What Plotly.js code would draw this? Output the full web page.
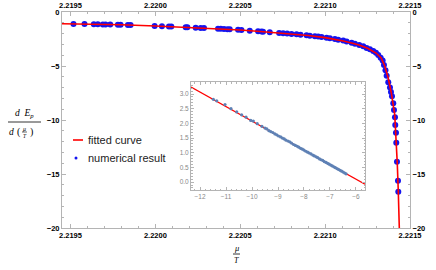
<!DOCTYPE html>
<html>
<head>
<meta charset="utf-8">
<script src="https://cdn.plot.ly/plotly-3.0.1.min.js"></script>
<style>html,body{margin:0;padding:0;background:#fff;}#chart{width:436px;height:270px;}</style>
</head>
<body>
<div id="chart"></div>
<script>
// ---- data ----
const numX = [2.2195177, 2.2195826, 2.2196375, 2.2196611, 2.2196906, 2.2197065, 2.2197342, 2.2197791, 2.2197950, 2.2198381,
  2.2198540, 2.2199956, 2.2200386, 2.2200799, 2.2200941, 2.2201785, 2.2201885, 2.2202375, 2.2202670, 2.2202864,
  2.2203690, 2.2203850, 2.2204044, 2.2204245, 2.2204381, 2.2204870, 2.2205071, 2.2205560, 2.2206050, 2.2206251,
  2.2206345, 2.2206740, 2.2207289, 2.2207525, 2.2207761, 2.2208021, 2.2208316, 2.2208552, 2.2208906, 2.2209100,
  2.2209395, 2.2209590, 2.2209791, 2.2210086, 2.2210280, 2.2210575, 2.2210770, 2.2211065, 2.2211265, 2.2211560,
  2.2211755, 2.2212009, 2.2212245, 2.2212445, 2.2212640, 2.2212835, 2.2212994, 2.2213130, 2.2213271, 2.2213389,
  2.2213466, 2.2213555, 2.2213625, 2.2213720, 2.2213820, 2.2213879, 2.2213938, 2.2214015, 2.2214056, 2.2214115,
  2.2214133, 2.2214174, 2.2214192, 2.2214233, 2.2214292, 2.2214310];
const numY = [-1.11, -1.12, -1.14, -1.14, -1.15, -1.15, -1.16, -1.18, -1.18, -1.20,
  -1.21, -1.30, -1.32, -1.34, -1.35, -1.42, -1.42, -1.46, -1.48, -1.49,
  -1.55, -1.56, -1.57, -1.59, -1.60, -1.65, -1.67, -1.73, -1.79, -1.80,
  -1.82, -1.87, -1.94, -1.97, -2.00, -2.03, -2.07, -2.10, -2.16, -2.19,
  -2.25, -2.28, -2.32, -2.38, -2.44, -2.50, -2.56, -2.65, -2.74, -2.84,
  -2.93, -3.06, -3.18, -3.33, -3.46, -3.61, -3.77, -3.98, -4.23, -4.50,
  -4.90, -5.40, -5.90, -6.50, -7.00, -7.40, -7.80, -8.45, -9.07, -9.75,
  -10.46, -11.18, -12.10, -13.86, -15.62, -16.64];

const fitX = [2.21945, 2.2196, 2.2198, 2.2200, 2.2202, 2.2204, 2.2205, 2.2206, 2.2207, 2.2208, 2.2209, 2.2210,
  2.22105, 2.2211, 2.22115, 2.2212, 2.22125, 2.2213, 2.22133, 2.22135, 2.22137, 2.22139, 2.22141,
  2.221418, 2.221425, 2.221431, 2.221437];
const fitY = [-1.09, -1.12, -1.18, -1.29, -1.43, -1.57, -1.66, -1.78, -1.90, -2.03, -2.17, -2.37,
  -2.50, -2.66, -2.84, -3.05, -3.36, -3.80, -4.25, -4.95, -6.0, -7.5, -9.5,
  -11.5, -14.0, -16.6, -20];

const insetX = [-11.49, -11.36, -11.04, -10.81, -10.59, -10.40, -10.23, -10.05, -9.95, -9.80,
  -9.62, -9.50, -9.43, -9.35, -9.28, -9.20, -9.12, -9.05, -8.98, -8.90,
  -8.83, -8.76, -8.70, -8.62, -8.55, -8.48, -8.40, -8.33, -8.26, -8.20,
  -8.13, -8.06, -8.00, -7.93, -7.86, -7.80, -7.73, -7.66, -7.60, -7.53,
  -7.47, -7.40, -7.34, -7.28, -7.22, -7.15, -7.09, -7.03, -6.97, -6.91,
  -6.85, -6.79, -6.73, -6.67, -6.61, -6.55, -6.49, -6.43, -6.38];
const insetY = [2.82, 2.77, 2.64, 2.50, 2.39, 2.29, 2.21, 2.10, 2.08, 1.99,
  1.90, 1.84, 1.81, 1.75, 1.72, 1.69, 1.64, 1.61, 1.57, 1.54,
  1.50, 1.47, 1.43, 1.40, 1.37, 1.33, 1.28, 1.25, 1.22, 1.19,
  1.15, 1.12, 1.09, 1.05, 1.02, 0.99, 0.96, 0.92, 0.89, 0.86,
  0.83, 0.79, 0.76, 0.74, 0.70, 0.67, 0.64, 0.61, 0.58, 0.55,
  0.52, 0.49, 0.46, 0.43, 0.40, 0.37, 0.34, 0.31, 0.28];
const insetFitX = [-12.35, -5.65];
const insetFitY = [3.24, -0.07];

const legendLabels = ["fitted curve", "numerical result"];

// ---- layout helpers (pixel -> paper) ----
const W = 436, H = 270, ML = 62, MR = 26, MT = 12, MB = 42;
const PW = W - ML - MR, PH = H - MT - MB;
const px = x => (x - ML) / PW;
const py = y => (H - MB - y) / PH;

const frame = '#b4b4b4';
const tickFont = {family: 'Liberation Sans, Arial, sans-serif', size: 7.5, color: '#000', weight: 'bold'};
const insetFont = {family: 'Liberation Sans, Arial, sans-serif', size: 6.5, color: '#888'};
const XR = [2.21945, 2.2215], YR = [-20, 0];

const mainX = {range: XR, tick0: 2.2195, dtick: 0.0005, tickformat: '.4f', ticks: 'inside', ticklen: 4,
  tickcolor: frame, tickwidth: 1, showline: true, linecolor: frame, linewidth: 1, showgrid: false, zeroline: false,
  tickfont: tickFont, minor: {dtick: 0.0001, ticks: 'inside', ticklen: 2, tickcolor: frame, showgrid: false}, fixedrange: true};
const mainY = {range: YR, tick0: 0, dtick: 5, ticks: 'inside', ticklen: 4, tickcolor: frame, tickwidth: 1,
  showline: true, linecolor: frame, linewidth: 1, showgrid: false, zeroline: false, tickfont: tickFont,
  minor: {dtick: 1, ticks: 'inside', ticklen: 2, tickcolor: frame, showgrid: false}, fixedrange: true};

const traces = [
  {x: numX, y: numY, type: 'scatter', mode: 'markers', xaxis: 'x', yaxis: 'y',
   marker: {color: '#1414f0', size: 6, line: {width: 0}}, showlegend: false, hoverinfo: 'skip'},
  {x: fitX, y: fitY, type: 'scatter', mode: 'lines', xaxis: 'x', yaxis: 'y',
   line: {color: '#ff0000', width: 1.6}, showlegend: false, hoverinfo: 'skip'},
  {x: [], y: [], type: 'scatter', mode: 'markers', xaxis: 'x2', yaxis: 'y2', showlegend: false, hoverinfo: 'skip'},
  {x: insetFitX, y: insetFitY, type: 'scatter', mode: 'lines', xaxis: 'x3', yaxis: 'y3',
   line: {color: '#ff0000', width: 1.3}, showlegend: false, hoverinfo: 'skip'},
  {x: insetX, y: insetY, type: 'scatter', mode: 'markers', xaxis: 'x3', yaxis: 'y3',
   marker: {color: '#5e81b5', size: 3.2, line: {width: 0}}, showlegend: false, hoverinfo: 'skip'}
];

const serif = 'Liberation Serif, Times New Roman, serif';
const ann = (x, y, text, size, extra) => Object.assign({xref: 'paper', yref: 'paper', x: px(x), y: py(y), text: text,
  showarrow: false, xanchor: 'center', yanchor: 'middle', font: {family: serif, size: size, color: '#000'}}, extra || {});

const annotations = [
  ann(24, 113, '<i>d</i>  <i>E</i><sub><i>p</i></sub>', 9.5),
  ann(11, 132, '<i>d</i>', 9.5),
  ann(18.5, 132, '(', 10),
  ann(24.5, 128.5, '<i>μ</i>', 6),
  ann(24.5, 136, '<i>T</i>', 5.5),
  ann(31, 132, ')', 10),
  ann(236.5, 248, '<i>μ</i>', 8.5),
  ann(236.5, 260, '<i>T</i>', 8),
  {xref: 'paper', yref: 'paper', x: px(86), y: py(140), text: legendLabels[0], showarrow: false, xanchor: 'left', yanchor: 'middle',
   font: {family: 'Liberation Sans, Arial, sans-serif', size: 11, color: '#222'}},
  {xref: 'paper', yref: 'paper', x: px(86), y: py(158), text: legendLabels[1], showarrow: false, xanchor: 'left', yanchor: 'middle',
   font: {family: 'Liberation Sans, Arial, sans-serif', size: 11, color: '#222'}}
];

const shapes = [
  {type: 'line', xref: 'paper', yref: 'paper', x0: px(8), x1: px(41), y0: py(122), y1: py(122), line: {color: '#000', width: 0.8}},
  {type: 'line', xref: 'paper', yref: 'paper', x0: px(22), x1: px(27), y0: py(132), y1: py(132), line: {color: '#000', width: 0.6}},
  {type: 'line', xref: 'paper', yref: 'paper', x0: px(233), x1: px(240), y0: py(254), y1: py(254), line: {color: '#000', width: 0.8}},
  {type: 'line', xref: 'paper', yref: 'paper', x0: px(73), x1: px(83), y0: py(140), y1: py(140), line: {color: '#ff0000', width: 1.6}},
  {type: 'circle', xref: 'paper', yref: 'paper', x0: px(74.5), x1: px(77.5), y0: py(156.5), y1: py(159.5),
   fillcolor: '#1414f0', line: {width: 0}}
];

const layout = {
  width: W, height: H, margin: {l: ML, r: MR, t: MT, b: MB, pad: 0},
  paper_bgcolor: '#fff', plot_bgcolor: '#fff', showlegend: false, hovermode: false,
  xaxis: Object.assign({}, mainX, {side: 'bottom', anchor: 'y', domain: [0, 1]}),
  yaxis: Object.assign({}, mainY, {side: 'left', anchor: 'x', domain: [0, 1]}),
  xaxis2: Object.assign({}, mainX, {side: 'top', overlaying: 'x', anchor: 'y'}),
  yaxis2: Object.assign({}, mainY, {side: 'right', overlaying: 'y', anchor: 'x'}),
  xaxis3: {domain: [px(191), px(365)], anchor: 'y3', range: [-12.35, -5.65], dtick: 1, tick0: -12, ticks: 'inside', ticklen: 3,
    tickcolor: frame, showline: true, mirror: 'ticks', linecolor: frame, linewidth: 1, showgrid: false, zeroline: false,
    tickfont: insetFont, minor: {dtick: 0.2, ticks: 'inside', ticklen: 1.5, tickcolor: frame, showgrid: false}, fixedrange: true},
  yaxis3: {domain: [py(190), py(82)], anchor: 'x3', range: [-0.27, 3.41], dtick: 0.5, tick0: 0, tickformat: '.1f', ticks: 'inside',
    ticklen: 3, tickcolor: frame, showline: true, mirror: 'ticks', linecolor: frame, linewidth: 1, showgrid: false, zeroline: false,
    tickfont: insetFont, minor: {dtick: 0.1, ticks: 'inside', ticklen: 1.5, tickcolor: frame, showgrid: false}, fixedrange: true},
  shapes: shapes.concat([{type: 'rect', xref: 'paper', yref: 'paper', x0: px(191), x1: px(365), y0: py(190), y1: py(82),
    fillcolor: '#fff', line: {width: 0}, layer: 'below'}]),
  annotations: annotations
};

Plotly.newPlot('chart', traces, layout, {staticPlot: true, displayModeBar: false});
</script>
</body>
</html>
